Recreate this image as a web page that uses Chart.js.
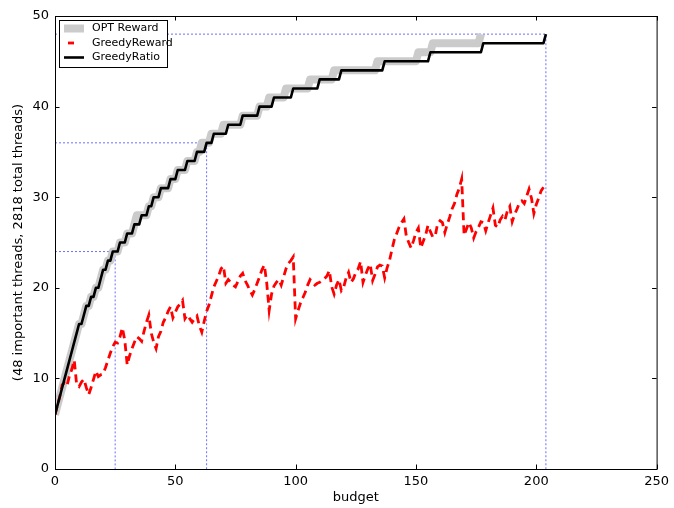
<!DOCTYPE html>
<html>
<head>
<meta charset="utf-8">
<script src="https://cdn.jsdelivr.net/npm/chart.js@4"></script>
<style>
html, body { margin: 0; padding: 0; background: #fff; }
#wrap { width: 674px; height: 508px; }
</style>
</head>
<body>
<div id="wrap"><canvas id="c" width="674" height="508"></canvas></div>
<script>
// Axis ticks
const xTicks = [0, 50, 100, 150, 200, 250];
const yTicks = [0, 10, 20, 30, 40, 50];

// Reward levels (important threads captured) and the budget at which each level is first reached
const rewardLevels = [6, 7, 8, 9, 10, 11, 12, 13, 14, 15, 16, 17, 18, 19, 20, 21, 22, 23, 24, 25, 26, 27,
  28, 29, 30, 31, 32, 33, 34, 35, 36, 37, 38, 39, 40, 41, 42, 43, 44, 45, 46, 47, 48];
const ratioStepBudget = [0, 1, 2, 3, 4, 5, 6, 7, 8, 9, 10, 12, 13, 15, 17, 19, 20, 22, 24, 27, 30, 33,
  36, 39, 41, 44, 48, 51, 55, 59, 63, 66, 72, 78, 85, 91, 99, 110, 119, 137, 156, 178, 204];
const optStepBudget = [0, 1, 2, 3, 4, 5, 6, 7, 8, 9, 10, 12, 13, 15, 17, 19, 20, 22, 24, 27, 30, 33,
  34, 39, 41, 44, 48, 51, 55, 59, 61, 65, 70, 78, 85, 89, 96, 106, 116, 134, 151, 157, 177];

// Greedy reward per unit of budget, budget = 0 .. 203
const greedyReward = [
  6.0, 7.0, 8.0, 9.3, 9.5, 9.2, 10.3, 11.0, 12.0, 9.3,
  9.1, 9.6, 9.9, 9.0, 8.2, 9.0, 9.9, 10.8, 10.2, 10.4,
  10.5, 11.2, 12.0, 12.8, 13.5, 14.0, 13.9, 14.6, 15.6, 14.2,
  11.5, 12.5, 13.3, 14.0, 14.6, 14.4, 14.1, 15.2, 16.2, 17.0,
  15.0, 14.0, 13.3, 14.6, 15.2, 16.2, 16.7, 17.4, 17.9, 16.7,
  17.3, 17.9, 18.2, 18.6, 16.6, 17.0, 16.6, 16.2, 16.6, 16.9,
  15.8, 15.1, 16.3, 17.4, 18.1, 19.1, 20.1, 20.7, 21.3, 22.1,
  22.4, 20.5, 20.9, 20.6, 20.3, 20.1, 20.7, 21.3, 21.6, 20.8,
  20.3, 19.7, 19.2, 19.8, 20.5, 21.2, 22.0, 22.5, 20.5, 17.5,
  19.3, 20.2, 20.6, 20.9, 20.3, 21.2, 22.1, 22.7, 23.0, 23.4,
  16.6, 17.5, 18.3, 18.9, 19.5, 20.3, 20.9, 20.6, 20.3, 20.5,
  20.6, 20.8, 21.0, 21.3, 21.9, 20.1, 19.3, 20.3, 20.9, 19.7,
  20.1, 21.1, 21.7, 20.6, 21.0, 21.7, 22.1, 22.9, 20.6, 21.4,
  22.1, 22.6, 20.8, 21.5, 22.3, 22.5, 22.4, 21.1, 22.2, 23.0,
  24.2, 25.3, 26.0, 26.7, 27.2, 27.6, 25.7, 25.0, 24.4, 25.2,
  26.1, 26.6, 24.4, 25.1, 25.8, 26.9, 26.2, 25.6, 25.7, 27.1,
  27.4, 27.2, 26.1, 27.0, 27.8, 28.7, 29.3, 30.3, 31.0, 32.0,
  25.8, 26.5, 27.2, 26.6, 25.5, 26.2, 26.7, 27.3, 27.2, 26.3,
  27.2, 28.0, 28.8, 26.9, 26.7, 27.5, 27.9, 27.5, 28.5, 29.0,
  27.3, 28.1, 28.7, 29.4, 29.6, 29.3, 30.1, 30.9, 29.9, 28.2,
  29.2, 29.9, 30.7, 31.1
];

// Reference marks: budget where GreedyRatio reaches half, three quarters and all important threads
const guideBudgets = [25, 63, 204];
const guideRewards = [24, 36, 48];

// Staircase: one unit of budget to climb a level, flat until the next level is reached
function stairs(steps, levels) {
  const pts = [{ x: steps[0], y: levels[0] }];
  for (let i = 1; i < steps.length; i++) {
    const last = pts[pts.length - 1];
    if (steps[i] - 1 > last.x) pts.push({ x: steps[i] - 1, y: levels[i - 1] });
    pts.push({ x: steps[i], y: levels[i] });
  }
  return pts;
}

const FONT = 'DejaVu Sans';

const datasets = [
  {
    label: 'GreedyRatio',
    data: stairs(ratioStepBudget, rewardLevels),
    borderColor: '#000000', borderWidth: 2.6, order: 1, clip: 0,
    borderJoinStyle: 'round'
  },
  {
    label: 'GreedyReward',
    data: greedyReward.map((v, i) => ({ x: i, y: v })),
    borderColor: '#ff0000', borderWidth: 2.8, borderDash: [8, 5], order: 2, clip: 0
  },
  {
    label: 'OPT Reward',
    data: stairs(optStepBudget, rewardLevels),
    borderColor: '#cbcbcb', borderWidth: 8, order: 3, clip: 0,
    borderJoinStyle: 'round'
  }
];
guideBudgets.forEach((b, i) => {
  datasets.push({
    label: 'guide' + i,
    data: [{ x: 0, y: guideRewards[i] }, { x: b, y: guideRewards[i] }, { x: b, y: 0 }],
    borderColor: 'rgba(30,30,255,0.65)', borderWidth: 1, borderDash: [2, 2], order: 4, clip: 0
  });
});

// Axes frame, inward tick marks on all four sides, and the boxed legend
const framePlugin = {
  id: 'frame',
  afterDraw(chart) {
    const { ctx, chartArea: a, scales } = chart;
    ctx.save();
    ctx.strokeStyle = '#000';
    ctx.lineWidth = 1;
    ctx.strokeRect(a.left + 0.5, a.top + 0.5, a.right - a.left, a.bottom - a.top);
    const tl = 4.5;
    ctx.beginPath();
    xTicks.forEach(v => {
      const px = Math.round(scales.x.getPixelForValue(v)) + 0.5;
      ctx.moveTo(px, a.bottom); ctx.lineTo(px, a.bottom - tl);
      ctx.moveTo(px, a.top); ctx.lineTo(px, a.top + tl);
    });
    yTicks.forEach(v => {
      const py = Math.round(scales.y.getPixelForValue(v)) + 0.5;
      ctx.moveTo(a.left, py); ctx.lineTo(a.left + tl, py);
      ctx.moveTo(a.right, py); ctx.lineTo(a.right - tl, py);
    });
    ctx.stroke();

    // legend
    const lx = a.left + 4, ly = a.top + 4, lw = 108, lh = 47;
    ctx.fillStyle = '#fff';
    ctx.fillRect(lx + 0.5, ly + 0.5, lw, lh);
    ctx.strokeRect(lx + 0.5, ly + 0.5, lw, lh);
    const rows = [ly + 8.5, ly + 23, ly + 37.5];
    const s0 = lx + 5, s1 = lx + 25;
    ctx.lineCap = 'butt';
    ctx.strokeStyle = '#cbcbcb'; ctx.lineWidth = 8;
    ctx.beginPath(); ctx.moveTo(s0, rows[0]); ctx.lineTo(s1, rows[0]); ctx.stroke();
    ctx.strokeStyle = '#ff0000'; ctx.lineWidth = 2.8;
    ctx.beginPath(); ctx.moveTo(s0 + 4, rows[1]); ctx.lineTo(s0 + 10, rows[1]); ctx.stroke();
    ctx.strokeStyle = '#000'; ctx.lineWidth = 2.6;
    ctx.beginPath(); ctx.moveTo(s0, rows[2]); ctx.lineTo(s1, rows[2]); ctx.stroke();
    ctx.fillStyle = '#000';
    ctx.font = '11px "' + FONT + '"';
    ctx.textBaseline = 'middle';
    ctx.textAlign = 'left';
    ['OPT Reward', 'GreedyReward', 'GreedyRatio'].forEach((t, i) => ctx.fillText(t, lx + 33, rows[i]));
    ctx.restore();
  }
};

new Chart(document.getElementById('c'), {
  type: 'line',
  data: { datasets },
  options: {
    responsive: false,
    animation: false,
    devicePixelRatio: 1,
    layout: { padding: { left: 0, right: 16, top: 16, bottom: 0 } },
    elements: { point: { radius: 0 }, line: { tension: 0, borderCapStyle: 'butt' } },
    plugins: { legend: { display: false }, tooltip: { enabled: false } },
    scales: {
      x: {
        type: 'linear', min: 0, max: 250,
        afterBuildTicks: s => { s.ticks = xTicks.map(v => ({ value: v })); },
        grid: { display: false, drawTicks: false },
        border: { display: false },
        ticks: { color: '#000', font: { family: FONT, size: 13 }, padding: 5, maxRotation: 0 },
        title: { display: true, text: 'budget', color: '#000', font: { family: FONT, size: 13 }, padding: { top: 0, bottom: 3 } },
        afterFit: s => { s.height = 39; }
      },
      y: {
        type: 'linear', min: 0, max: 50,
        afterBuildTicks: s => { s.ticks = yTicks.map(v => ({ value: v })); },
        grid: { display: false, drawTicks: false },
        border: { display: false },
        ticks: { color: '#000', font: { family: FONT, size: 13 }, padding: 6 },
        title: { display: true, text: '(48 important threads, 2818 total threads)', color: '#000', font: { family: FONT, size: 13 }, padding: { top: 11, bottom: 0 } },
        afterFit: s => { s.width = 55; }
      }
    }
  },
  plugins: [framePlugin]
});
</script>
</body>
</html>
